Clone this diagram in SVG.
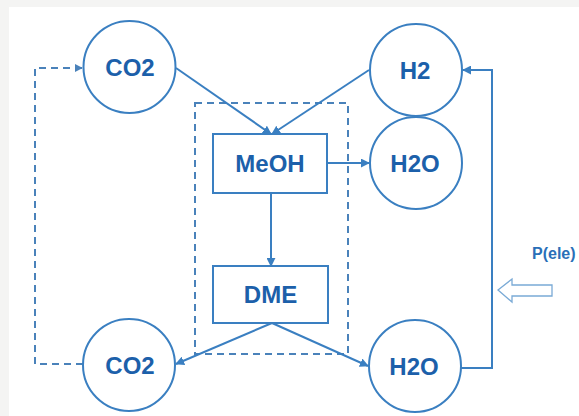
<svg xmlns="http://www.w3.org/2000/svg" width="579" height="416" viewBox="0 0 579 416">
<style>
.node{fill:#fff;stroke:#3a7fc1;stroke-width:2}
.lbl{font-family:"Liberation Sans",Arial,sans-serif;font-weight:bold;font-size:24px;fill:#1c60aa;text-anchor:middle}
.ln{fill:none;stroke:#3a7fc1;stroke-width:2}
.dash{fill:none;stroke:#4a82ba;stroke-width:2;stroke-dasharray:7 5}
</style>
<defs>
<marker id="ah" viewBox="0 0 10 10" refX="9" refY="5" markerWidth="4.5" markerHeight="4.5" orient="auto" markerUnits="strokeWidth">
<path d="M0,0 L10,5 L0,10 Z" fill="#3a7fc1"/>
</marker>
<marker id="ahd" viewBox="0 0 10 10" refX="9" refY="5" markerWidth="4" markerHeight="4" orient="auto" markerUnits="strokeWidth">
<path d="M0,0 L10,5 L0,10 Z" fill="#4a82ba"/>
</marker>
</defs>
<rect x="0" y="0" width="579" height="416" fill="#f4f4f3"/>
<rect x="9" y="7" width="570" height="409" fill="#ffffff"/>

<g id="connectors">
<rect class="dash" x="195" y="103" width="153" height="251"/>
<path class="dash" d="M83,364 H35 V68 H82" marker-end="url(#ahd)"/>
<line class="ln" x1="176" y1="68" x2="271" y2="134" marker-end="url(#ah)"/>
<line class="ln" x1="369" y1="70" x2="272" y2="134" marker-end="url(#ah)"/>
<line class="ln" x1="327" y1="163" x2="369" y2="163" marker-end="url(#ah)"/>
<line class="ln" x1="271" y1="193" x2="271" y2="266" marker-end="url(#ah)"/>
<line class="ln" x1="272" y1="323" x2="176" y2="364" marker-end="url(#ah)"/>
<line class="ln" x1="272" y1="323" x2="368" y2="366" marker-end="url(#ah)"/>
<path class="ln" d="M461,368 H492 V70 H463" marker-end="url(#ah)"/>
</g>

<g id="co2-top"><circle class="node" cx="129.5" cy="67" r="46"/><text class="lbl" x="130" y="76">CO2</text></g>
<g id="h2"><circle class="node" cx="416" cy="70" r="46"/><text class="lbl" x="415" y="79">H2</text></g>
<g id="h2o-top"><circle class="node" cx="416" cy="163" r="46"/><text class="lbl" x="415" y="172">H2O</text></g>
<g id="co2-bottom"><circle class="node" cx="129" cy="365" r="46"/><text class="lbl" x="130" y="374">CO2</text></g>
<g id="h2o-bottom"><circle class="node" cx="415" cy="366" r="46"/><text class="lbl" x="414" y="375">H2O</text></g>
<g id="meoh"><rect class="node" x="213" y="134" width="114" height="59"/><text class="lbl" x="270" y="172">MeOH</text></g>
<g id="dme"><rect class="node" x="213" y="266" width="115" height="57"/><text class="lbl" x="270.5" y="303">DME</text></g>

<g id="pele">
<text x="532" y="259" font-family="Liberation Sans,Arial,sans-serif" font-weight="bold" font-size="16" fill="#2a6fb8">P(ele)</text>
<path d="M498,290 L512,279 L512,285 L552,285 L552,296 L512,296 L512,302 Z" fill="#fff" stroke="#7aaad6" stroke-width="1.3"/>
</g>
</svg>
